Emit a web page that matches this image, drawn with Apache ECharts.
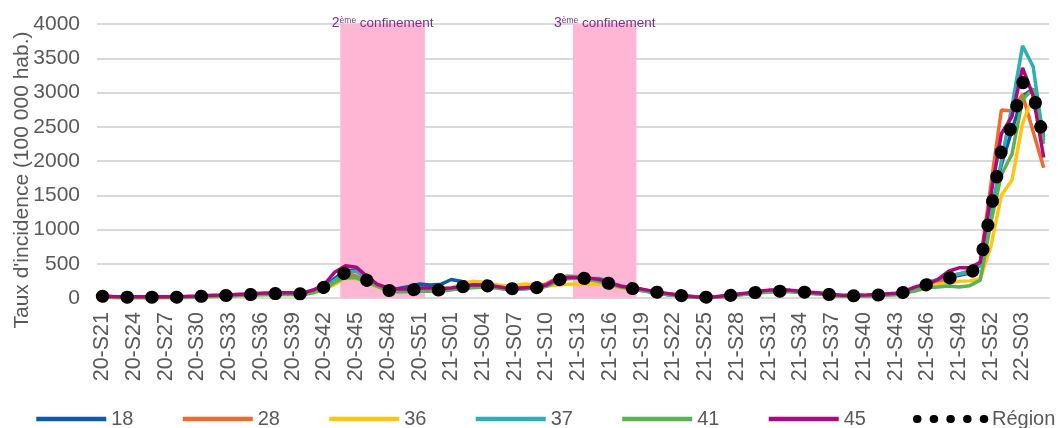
<!DOCTYPE html>
<html><head><meta charset="utf-8">
<script src="https://cdn.jsdelivr.net/npm/echarts@6/dist/echarts.min.js"></script>
<style>html,body{margin:0;padding:0;background:#fff}#c{width:1061px;height:428px}</style>
</head><body><div id="c"></div>
<script>
const categories = [
'20-S21','20-S22','20-S23','20-S24','20-S25','20-S26','20-S27','20-S28','20-S29','20-S30',
'20-S31','20-S32','20-S33','20-S34','20-S35','20-S36','20-S37','20-S38','20-S39','20-S40',
'20-S41','20-S42','20-S43','20-S44','20-S45','20-S46','20-S47','20-S48','20-S49','20-S50',
'20-S51','20-S52','20-S53',
'21-S01','21-S02','21-S03','21-S04','21-S05','21-S06','21-S07','21-S08','21-S09','21-S10',
'21-S11','21-S12','21-S13','21-S14','21-S15','21-S16','21-S17','21-S18','21-S19','21-S20',
'21-S21','21-S22','21-S23','21-S24','21-S25','21-S26','21-S27','21-S28','21-S29','21-S30',
'21-S31','21-S32','21-S33','21-S34','21-S35','21-S36','21-S37','21-S38','21-S39','21-S40',
'21-S41','21-S42','21-S43','21-S44','21-S45','21-S46','21-S47','21-S48','21-S49','21-S50',
'21-S51','21-S52',
'22-S01','22-S02','22-S03','22-S04','22-S05'];

const d18 = [20,12,8,8,8,8,10,10,12,18, 25,30,35,42,48,55,60,62,60,60, 90,150,290,400,400,290,180,120,140,170,
  205,190,200,270,240,210,195,170,140,130, 140,150,175,255,290,300,280,250,200, 155,130,110,85,60,40,22,10,8,12,
  28,48,62,80,95,98,98,88,72,60, 40,28,30,32,38,48,55,85,125,195, 260,310,330,360,500,1250,1950,2450,2950,3050,2350];
const d28 = [25,15,12,12,12,14,12,12,15,22, 30,34,40,46,52,60,65,66,64,62, 95,150,250,350,320,250,170,110,100,110,
  115,105,105,125,150,175,200,185,155,145, 160,170,210,290,320,310,280,255,215, 170,145,125,100,75,52,30,15,12,15,
  32,52,68,88,105,102,102,92,78,68, 48,30,32,34,40,50,58,88,125,190, 230,290,350,400,520,1650,2745,2730,2970,2430,1900];
const d36 = [12,6,4,4,4,4,4,4,6,10, 18,22,28,34,40,46,52,54,52,50, 75,130,200,290,285,230,160,110,100,115,
  125,125,130,150,200,245,235,200,175,185, 205,190,175,190,200,205,200,200,180, 150,130,110,90,65,45,25,10,8,10,
  25,45,58,72,90,95,95,85,70,60, 40,25,28,30,35,45,52,80,115,170, 200,220,245,250,280,750,1500,1720,2550,2950,2450];
const d37 = [25,15,12,12,12,12,12,12,15,22, 30,33,38,45,50,58,64,65,62,60, 90,150,260,370,390,300,190,110,90,95,
  100,100,100,130,160,175,180,160,130,125, 135,145,175,275,310,305,290,285,230, 170,140,115,85,60,40,22,10,8,12,
  28,48,62,82,98,98,98,88,72,62, 42,28,30,32,38,48,56,95,150,230, 270,320,355,370,470,1200,2000,2800,3680,3380,2300];
const d41 = [15,8,6,6,6,6,6,6,8,14, 22,26,30,36,42,48,52,54,52,50, 80,140,230,300,295,235,170,110,95,100,
  105,100,100,120,140,150,160,150,130,130, 140,150,170,240,280,290,270,240,200, 160,135,110,85,60,40,22,10,8,10,
  24,42,56,74,88,90,90,80,66,55, 38,24,26,28,32,42,48,75,110,150, 160,175,160,180,260,1100,1800,2100,2900,3050,2250];
const d45 = [30,22,18,18,18,18,18,20,24,30, 38,42,48,55,62,70,76,78,76,75, 120,200,380,470,450,320,200,150,130,130,
  145,150,140,145,170,190,190,175,150,140, 150,160,190,280,300,300,290,270,220, 175,150,130,100,75,55,35,20,15,20,
  35,55,75,100,115,115,115,100,85,70, 50,40,40,42,50,60,70,110,170,200, 270,390,440,440,520,1500,2400,2650,3360,2950,2050];
const dRegion = [25,15,12,12,12,12,12,12,15,22, 30,33,38,45,50,58,64,65,62,60, 95,160,270,375,330,260,180,110,105,120,
  125,118,115,140,165,175,185,165,140,135, 145,150,180,260,295,300,275,250,210, 165,140,120,95,70,50,30,15,12,15,
  30,50,65,85,100,100,100,90,75,65, 45,30,32,34,40,50,58,90,130,200, 245,290,320,345,510,1275,2150,2520,3150,3000,2300];

const seriesNames = ['18','28','36','37','41','45','Région'];
const seriesColors = ['#0F5AA5','#EE6A2E','#FFC510','#2EAFB5','#5BB05A','#AA0A7E','#000000'];
const yTicks = {min: 0, max: 4000, interval: 500};
const confNumbers = ['2','3'];
const confFirstWeek = ['20-S44','21-S13'];
const confLastWeek = ['20-S51','21-S18'];

const FONT = 'Arial, "Liberation Sans", sans-serif';
const allData = [d18, d28, d36, d37, d41, d45];

const series = allData.map((d, i) => ({
  name: seriesNames[i], type: 'line', data: d, symbol: 'none', showSymbol: false,
  lineStyle: {color: seriesColors[i], width: 3.5}, itemStyle: {color: seriesColors[i]},
  z: 3 + i, animation: false
}));
series.push({
  name: 'Région', type: 'line', data: dRegion, symbol: 'none', showSymbol: false,
  lineStyle: {color: '#000', width: 13, type: [0.5, 24.2], cap: 'round'},
  itemStyle: {color: '#000'}, z: 20, animation: false
});
series.unshift({
  name: 'conf', type: 'line', xAxisIndex: 1, data: [], silent: true, z: 1,
  markArea: {
    silent: true,
    itemStyle: {color: '#FFB6D5'},
    label: {
      show: true, position: 'top', distance: -6,
      formatter: p => '{n|' + p.name + '}{s|ème}{t| confinement}',
      rich: {
        n: {fontFamily: FONT, fontSize: 14, color: '#7A2E8E', verticalAlign: 'bottom'},
        s: {fontFamily: FONT, fontSize: 8.5, color: '#7A2E8E', verticalAlign: 'top'},
        t: {fontFamily: FONT, fontSize: 13.5, color: '#7A2E8E', verticalAlign: 'bottom'}
      }
    },
    data: confNumbers.map((n, i) => [
      {name: n, xAxis: categories.indexOf(confFirstWeek[i]), yAxis: yTicks.max},
      {xAxis: categories.indexOf(confLastWeek[i]) + 1, yAxis: yTicks.min}])
  }
});

const chart = echarts.init(document.getElementById('c'), null, {renderer: 'canvas'});
chart.setOption({
  animation: false,
  grid: {left: 97, right: 12, top: 24, bottom: 130, containLabel: false, outerBoundsMode: 'none'},
  xAxis: [{
    type: 'category', data: categories, boundaryGap: true,
    axisLine: {lineStyle: {color: '#D9D9D9', width: 2}},
    axisTick: {show: false},
    axisLabel: {rotate: 90, interval: 2, fontSize: 21.5, color: '#595959', fontFamily: FONT, margin: 14}
  }, {
    type: 'value', min: 0, max: categories.length, show: false
  }],
  yAxis: {
    type: 'value', min: yTicks.min, max: yTicks.max, interval: yTicks.interval,
    name: "Taux d'incidence (100 000 hab.)", nameLocation: 'middle', nameGap: 64, nameMoveOverlap: false,
    nameTextStyle: {fontSize: 21, color: '#595959', fontFamily: FONT, padding: [0, 38, 0, 0]},
    axisLine: {show: false}, axisTick: {show: false},
    axisLabel: {fontSize: 21, color: '#595959', fontFamily: FONT, margin: 17, formatter: v => String(v)},
    splitLine: {lineStyle: {color: '#D9D9D9', width: 2}}
  },
  legend: {
    data: seriesNames.map(n => n === 'Région'
      ? {name: n, lineStyle: {width: 8, type: [0.5, 16.2], cap: 'round', color: '#000'}}
      : {name: n}),
    left: 34, top: 409, width: 1027, padding: 0, itemWidth: 70, itemHeight: 16, itemGap: 47,
    itemStyle: {opacity: 0},
    lineStyle: {width: 4.5},
    textStyle: {fontSize: 20, color: '#595959', fontFamily: FONT}
  },
  series: series
});
</script></body></html>
